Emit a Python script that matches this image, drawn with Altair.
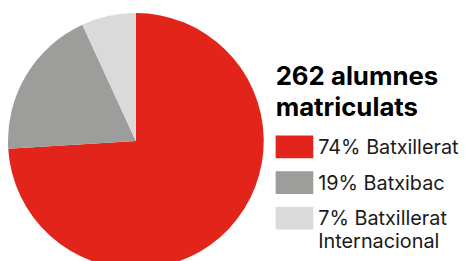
import altair as alt
import pandas as pd

categories = ["74% Batxillerat", "19% Batxibac", "7% Batxillerat|Internacional"]
counts = [194, 50, 18]
colors = ["#E3241A", "#9D9D9C", "#DADADA"]
title_lines = ["262 alumnes", "matriculats"]

df = pd.DataFrame({"cat": categories, "n": counts, "ord": list(range(len(categories)))})

chart = (
    alt.Chart(df)
    .mark_arc(outerRadius=129)
    .encode(
        x=alt.value(127),
        y=alt.value(133),
        theta=alt.Theta("n:Q", stack=True),
        order=alt.Order("ord:Q"),
        color=alt.Color(
            "cat:N",
            sort=categories,
            scale=alt.Scale(domain=categories, range=colors),
            legend=alt.Legend(
                title=title_lines,
                orient="none",
                legendX=268,
                legendY=56,
                titleFont="Inter",
                titleFontSize=26,
                titleFontWeight="bold",
                titleColor="#000000",
                titleLineHeight=31,
                titlePadding=14,
                titleLimit=400,
                labelFont="Inter",
                labelFontSize=20,
                labelColor="#1a1a1a",
                labelLimit=400,
                labelOffset=5,
                labelExpr="split(datum.label, '|')",
                labelBaseline="alphabetic",
                symbolType="M-1,-0.97H1V0.23H-1Z",
                symbolSize=1444,
                symbolStrokeWidth=0,
                symbolOpacity=1,
                rowPadding=12,
            ),
        ),
    )
    .properties(width=450, height=253, padding=0)
    .configure(style={"guide-label": {"lineHeight": 23}})
    .configure_view(stroke=None)
)

chart.save("out.html", embed_options={"renderer": "svg", "actions": False})
